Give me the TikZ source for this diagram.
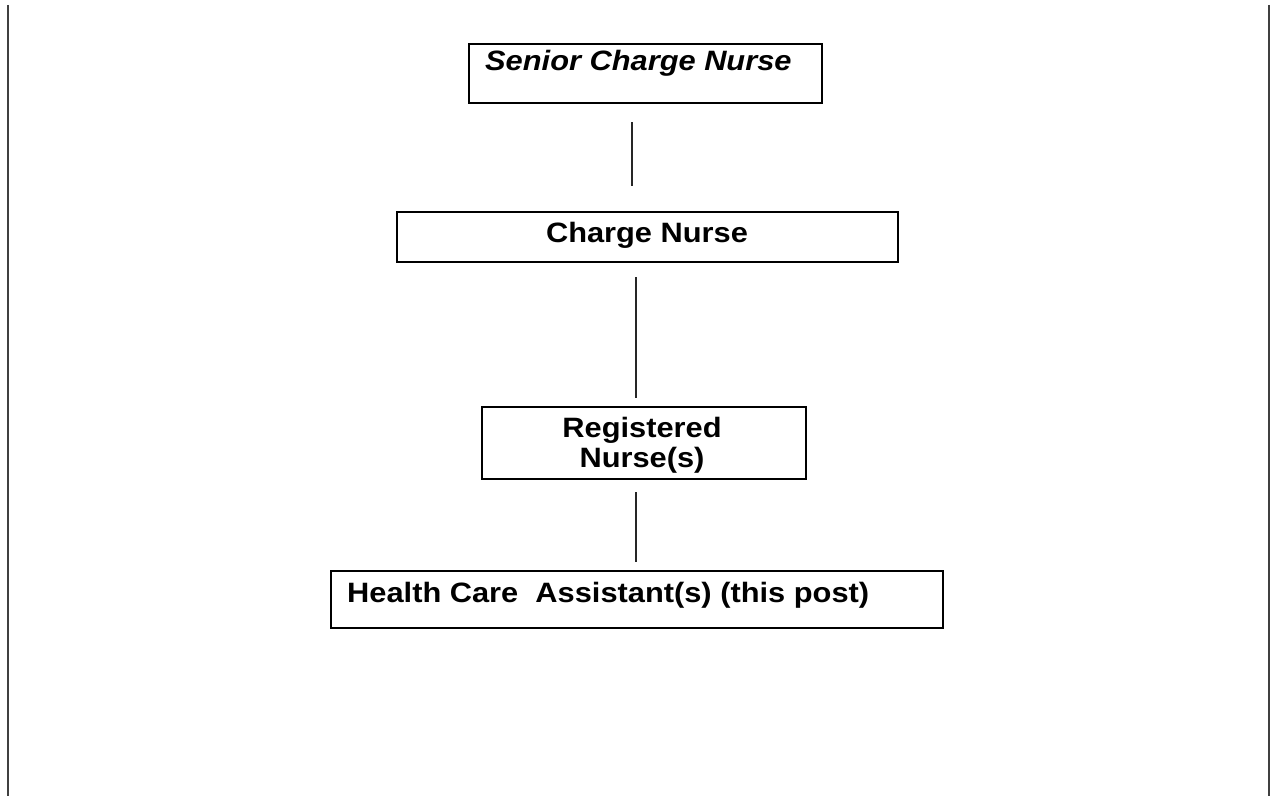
\documentclass[tikz,border=0pt]{standalone}
\usepackage{fontspec}
\setmainfont[FakeStretch=1.1]{Liberation Sans}
\tikzset{
  box/.style={draw=black, line width=1.8bp, fill=white, inner sep=0pt, rectangle},
  lbl/.style={inner sep=0pt, font=\fontsize{28bp}{30bp}\selectfont\bfseries},
  conn/.style={draw=black!85, line width=1.5bp},
  edge/.style={draw=black!75, line width=2bp}
}
\begin{document}
\begin{tikzpicture}[x=1bp,y=-1bp]
\useasboundingbox (0,0) rectangle (1276,796);
% page edge lines
\coordinate (lt) at (8,5);
\coordinate (lb) at (8,796);
\coordinate (rt) at (1269,5);
\coordinate (rb) at (1269,796);
\draw[edge] (lt) -- (lb);
\draw[edge] (rt) -- (rb);
% boxes
\node[box, minimum width=353bp, minimum height=59bp] (scn) at (645.5,73.5) {};
\node[box, minimum width=501bp, minimum height=50bp] (cn) at (647.5,237) {};
\node[box, minimum width=324bp, minimum height=72bp] (rn) at (644,443) {};
\node[box, minimum width=612bp, minimum height=57bp] (hca) at (637,599.5) {};
% texts
\node[lbl, anchor=base west, font=\fontsize{28bp}{30bp}\selectfont\bfseries\itshape] (tscn) at (485,71) {Senior Charge Nurse};
\node[lbl, anchor=base] (tcn) at (647,242) {Charge Nurse};
\node[lbl, anchor=base] (trn1) at (642,437) {Registered};
\node[lbl, anchor=base] (trn2) at (642,467) {Nurse(s)};
\node[lbl, anchor=base west] (thca) at (347,602) {Health Care\ \ Assistant(s) (this post)};
% connectors
\coordinate (c1a) at (632,122);
\coordinate (c1b) at (632,186);
\coordinate (c2a) at (636,277);
\coordinate (c2b) at (636,398);
\coordinate (c3a) at (636,492);
\coordinate (c3b) at (636,562);
\draw[conn] (c1a) -- (c1b);
\draw[conn] (c2a) -- (c2b);
\draw[conn] (c3a) -- (c3b);
\end{tikzpicture}
\end{document}
